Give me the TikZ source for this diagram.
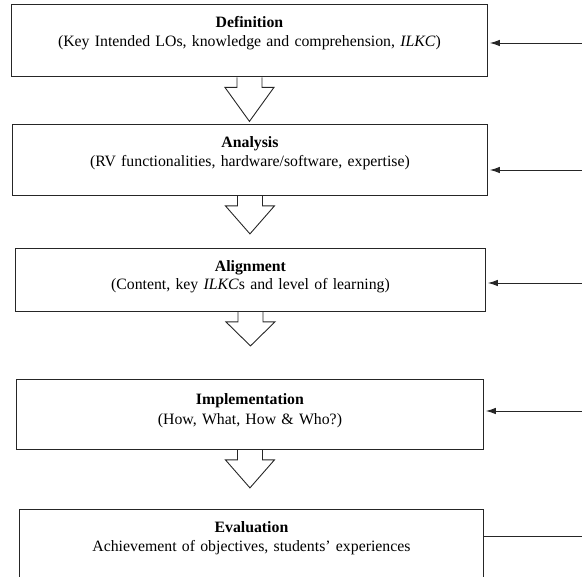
\documentclass[tikz,border=0pt]{standalone}
\usepackage{fontspec}
\setmainfont{Liberation Serif}
\usetikzlibrary{arrows.meta,calc}

% hollow block arrow under a stage box: #1 box, #2 distance to the tip
\newcommand\hollowstep[2]{%
  \draw[hollow] ($(#1.south)+(-12.5,0)$) -- ++(0,10) -- ++(-12,0)
    -- ($(#1.south)+(0,#2)$) -- ($(#1.south)+(24.5,10)$) -- ++(-12,0) -- ++(0,-10);}

\begin{document}
\begin{tikzpicture}[x=1pt, y=-1pt,
  stage/.style={draw=black!85, line width=0.9pt, rectangle, anchor=north west, inner sep=0pt},
  stage text/.style={anchor=base, text width=470pt, align=center, inner sep=0pt,
    font=\fontsize{15.8}{19}\selectfont},
  feed/.style={draw=black!85, line width=0.9pt, -{Latex[length=10pt,width=6.5pt]}, shorten >=2pt},
  hollow/.style={draw=black!85, line width=0.9pt, line join=miter}]
  \useasboundingbox (0,0) rectangle (582,577);
  \clip (0,0) rectangle (582,577);
  % stages
  \node[stage, minimum width=476pt, minimum height=72pt] (def) at (11,4.5) {};
  \node[stage, minimum width=475pt, minimum height=71pt] (ana) at (12,124) {};
  \node[stage, minimum width=470pt, minimum height=63pt] (ali) at (15,248) {};
  \node[stage, minimum width=467pt, minimum height=69.5pt] (imp) at (16,379.5) {};
  \node[stage, minimum width=464pt, minimum height=80pt] (eva) at (19,509.5) {};
  \node[stage text] (def-t) at ($(def.north)+(0,23.5)$)
    {\textbf{Definition}\\(Key Intended LOs, knowledge and comprehension, \textit{ILKC})};
  \node[stage text] (ana-t) at ($(ana.north)+(0,23.5)$)
    {\textbf{Analysis}\\(RV functionalities, hardware/software, expertise)};
  \node[stage text, font=\fontsize{15.8}{18}\selectfont] (ali-t) at ($(ali.north)+(0,23.3)$)
    {\textbf{Alignment}\\(Content, key \textit{ILKC}s and level of learning)};
  \node[stage text, font=\fontsize{15.8}{20}\selectfont] (imp-t) at ($(imp.north)+(0,25)$)
    {\textbf{Implementation}\\(How, What, How \& Who?)};
  \node[stage text] (eva-t) at ($(eva.north)+(0,23.3)$)
    {\textbf{Evaluation}\\Achievement of objectives, students’ experiences};
  % flow between stages
  \hollowstep{def}{44}
  \hollowstep{ana}{38}
  \hollowstep{ali}{34}
  \hollowstep{imp}{38}
  % feedback from the right
  \coordinate (in-def) at (590,43);
  \coordinate (in-ana) at (590,170);
  \coordinate (in-ali) at (590,283);
  \coordinate (in-imp) at (590,411);
  \coordinate (in-eva) at (590,536);
  \draw[feed] (in-def) -- (in-def -| def.east);
  \draw[feed] (in-ana) -- (in-ana -| ana.east);
  \draw[feed] (in-ali) -- (in-ali -| ali.east);
  \draw[feed] (in-imp) -- (in-imp -| imp.east);
  \draw[draw=black!85, line width=0.9pt] (in-eva) -- (in-eva -| eva.east);
\end{tikzpicture}
\end{document}
